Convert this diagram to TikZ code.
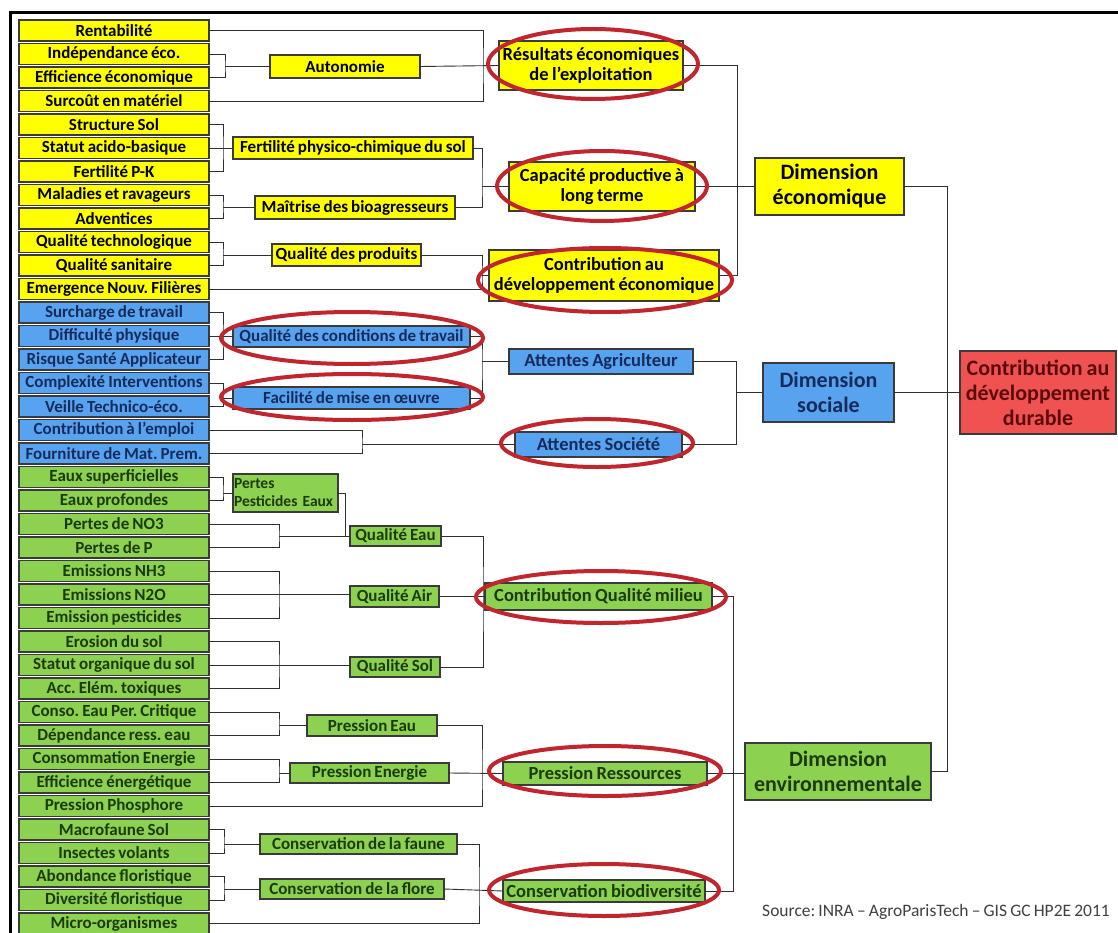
\documentclass[tikz,border=0pt]{standalone}
\usepackage{fontspec}
\setmainfont{Carlito}[WordSpace=0.8]
\frenchspacing
\definecolor{yelF}{HTML}{FFFF00}
\definecolor{bluF}{HTML}{58A3F0}
\definecolor{grnF}{HTML}{8CD250}
\definecolor{redF}{HTML}{F05252}
\definecolor{bordC}{HTML}{3A3A3A}
\definecolor{lineC}{HTML}{303030}
\definecolor{ringC}{HTML}{C0262D}
\definecolor{bluT}{HTML}{172B5A}
\definecolor{grnT}{HTML}{1D3A0C}
\definecolor{redT}{HTML}{5C0B0B}
\definecolor{srcT}{HTML}{404040}
\tikzset{
  box/.style={draw=bordC, line width=1.1pt, inner sep=0.5pt, outer sep=0pt, align=center},
  leaf/.style={box, minimum width=190pt, minimum height=21pt, font=\fontsize{17}{18}\selectfont\bfseries},
  mid/.style={box, font=\fontsize{17}{19}\selectfont\bfseries},
  big/.style={box, font=\fontsize{18.5}{20}\selectfont\bfseries},
  dim/.style={box, font=\fontsize{22}{25}\selectfont\bfseries},
  fy/.style={fill=yelF, text=black},
  fb/.style={fill=bluF, text=bluT},
  fg/.style={fill=grnF, text=grnT},
  fr/.style={fill=redF, text=redT},
  ln/.style={draw=lineC, line width=0.9pt},
  lnb/.style={draw=lineC, line width=1.8pt},
  ring/.style={draw=ringC, line width=4pt},
}
\newcommand\cbox[7]{\node[#1, minimum width={#4pt-#2pt}, minimum height={#5pt-#3pt}] (#6) at ({(#2+#4)/2},{(#3+#5)/2}) {#7};}
\newcommand\lf[4]{\node[leaf,#1] (#2) at (114,{30.5+(#3-1)*23.5}) {#4};}
\begin{document}
\begin{tikzpicture}[x=1pt,y=-1pt]
\useasboundingbox (0,0) rectangle (1118,933);
\fill[white] (0,0) rectangle (1118,933);
\draw[line width=3pt] (10,934) -- (10,13) -- (1118,13);
% leaves
\lf{fy}{l1}{1}{Rentabilité}
\lf{fy}{l2}{2}{Indépendance éco.}
\lf{fy}{l3}{3}{Efficience économique}
\lf{fy}{l4}{4}{Surcoût en matériel}
\lf{fy}{l5}{5}{Structure Sol}
\lf{fy}{l6}{6}{Statut acido-basique}
\lf{fy}{l7}{7}{Fertilité P-K}
\lf{fy}{l8}{8}{Maladies et ravageurs}
\lf{fy}{l9}{9}{Adventices}
\lf{fy}{l10}{10}{Qualité technologique}
\lf{fy}{l11}{11}{Qualité sanitaire}
\lf{fy}{l12}{12}{Emergence Nouv. Filières}
\lf{fb}{l13}{13}{Surcharge de travail}
\lf{fb}{l14}{14}{Difficulté physique}
\lf{fb}{l15}{15}{Risque Santé Applicateur}
\lf{fb}{l16}{16}{Complexité Interventions}
\lf{fb}{l17}{17}{Veille Technico-éco.}
\lf{fb}{l18}{18}{Contribution à l’emploi}
\lf{fb}{l19}{19}{Fourniture de Mat. Prem.}
\lf{fg}{l20}{20}{Eaux superficielles}
\lf{fg}{l21}{21}{Eaux profondes}
\lf{fg}{l22}{22}{Pertes de NO3}
\lf{fg}{l23}{23}{Pertes de P}
\lf{fg}{l24}{24}{Emissions NH3}
\lf{fg}{l25}{25}{Emissions N2O}
\lf{fg}{l26}{26}{Emission pesticides}
\lf{fg}{l27}{27}{Erosion du sol}
\lf{fg}{l28}{28}{Statut organique du sol}
\lf{fg}{l29}{29}{Acc. Elém. toxiques}
\lf{fg}{l30}{30}{Conso. Eau Per. Critique}
\lf{fg}{l31}{31}{Dépendance ress. eau}
\lf{fg}{l32}{32}{Consommation Energie}
\lf{fg}{l33}{33}{Efficience énergétique}
\lf{fg}{l34}{34}{Pression Phosphore}
\lf{fg}{l35}{35}{Macrofaune Sol}
\lf{fg}{l36}{36}{Insectes volants}
\lf{fg}{l37}{37}{Abondance floristique}
\lf{fg}{l38}{38}{Diversité floristique}
\lf{fg}{l39}{39}{Micro-organismes}
% second level
\cbox{mid,fy}{270}{55}{420}{78}{auto}{Autonomie}
\cbox{mid,fy}{233}{137}{473}{159}{fert}{Fertilité physico-chimique du sol}
\cbox{mid,fy}{255}{196}{455}{219}{mait}{Maîtrise des bioagresseurs}
\cbox{mid,fy}{272}{244}{421}{266}{qprod}{Qualité des produits}
\cbox{mid,fb}{233}{326}{470}{347}{qcond}{Qualité des conditions de travail}
\cbox{mid,fb}{233}{387}{470}{409}{facil}{Facilité de mise en œuvre}
\cbox{big,fb}{509}{349}{693}{374}{aagr}{Attentes Agriculteur}
\cbox{big,fb}{515}{432}{682}{457}{asoc}{Attentes Société}
\node[box,fg,align=left,minimum width=105pt,minimum height=38pt,text width=103pt,inner xsep=1pt,font=\fontsize{15.5}{18}\selectfont\bfseries] (ppe) at (285.5,493) {Pertes\\Pesticides Eaux};
\cbox{mid,fg}{350}{526}{441}{546}{qeau}{Qualité Eau}
\cbox{mid,fg}{350}{586}{439}{607}{qair}{Qualité Air}
\cbox{mid,fg}{350}{657}{440}{677}{qsol}{Qualité Sol}
\cbox{mid,fg}{307}{715}{437}{736}{peau}{Pression Eau}
\cbox{mid,fg}{290}{763}{449}{783}{pener}{Pression Energie}
\cbox{mid,fg}{260}{834}{457}{854}{cfaune}{Conservation de la faune}
\cbox{mid,fg}{260}{879}{444}{899}{cflore}{Conservation de la flore}
% third level
\cbox{big,fy}{499}{41}{683}{90}{res}{Résultats économiques\\de l’exploitation}
\cbox{big,fy}{509}{162}{695}{211}{cap}{Capacité productive à\\long terme}
\cbox{big,fy}{489}{250}{719}{301}{cde}{Contribution au\\développement économique}
\cbox{big,fg}{485}{583}{712}{610}{cqm}{Contribution Qualité milieu}
\cbox{big,fg}{503}{762}{707}{785}{pres}{Pression Ressources}
\cbox{big,fg}{503}{880}{705}{902}{cbio}{Conservation biodiversité}
% dimensions
\cbox{dim,fy}{755}{158}{904}{215}{deco}{Dimension\\économique}
\cbox{dim,fb}{763}{363}{894}{422}{dsoc}{Dimension\\sociale}
\cbox{dim,fg}{745}{743}{931}{800}{denv}{Dimension\\environnementale}
\cbox{dim,fr}{960}{351}{1116}{434}{cdd}{Contribution au\\développement\\durable}
% junctions
\coordinate (jA) at (483,65.5);
\coordinate (jB) at (225,66.5);
\coordinate (jC) at (223,148);
\coordinate (jD) at (223,207.5);
\coordinate (jE) at (482,186.5);
\coordinate (jF) at (223,255);
\coordinate (jG) at (482,275.5);
\coordinate (jH) at (737,186.5);
\coordinate (jI) at (947,392.5);
\coordinate (jJ) at (223,336.5);
\coordinate (jK) at (223,398);
\coordinate (jL) at (482,361.5);
\coordinate (jM) at (362,444.5);
\coordinate (jN) at (736,392.5);
\coordinate (jO) at (223,493);
\coordinate (jP) at (345,536);
\coordinate (jQ) at (279,536);
\coordinate (jR) at (279,596.5);
\coordinate (jS) at (279,667);
\coordinate (jT) at (483,596.5);
\coordinate (jU) at (733,773.5);
\coordinate (jV) at (279,725.5);
\coordinate (jW) at (279,773);
\coordinate (jX) at (482,773);
\coordinate (jY) at (224,844);
\coordinate (jZ) at (224,889);
\coordinate (jAA) at (479,889);
% connectors: economic
\draw[ln] (l1.east) -| (jA) |- (l4.east);
\draw[ln] (auto.east) -- (res.west);
\draw[ln] (l2.east) -| (jB) |- (l3.east);
\draw[ln] (jB) -- (auto.west);
\draw[ln] (l5.east) -| (jC) |- (l7.east);
\draw[ln] (l6.east) -- (fert.west);
\draw[ln] (l8.east) -| (jD) |- (l9.east);
\draw[ln] (jD) -- (mait.west);
\draw[ln] (fert.east) -| (jE) |- (mait.east);
\draw[ln] (jE) -- (cap.west);
\draw[ln] (l10.east) -| (jF) |- (l11.east);
\draw[ln] (jF) -- (qprod.west);
\draw[ln] (qprod.east) -| (jG) |- (l12.east);
\draw[ln] (jG) -- (cde.west);
\draw[ln] (res.east) -| (jH) |- (cde.east);
\draw[ln] (cap.east) -- (deco.west);
\draw[ln] (deco.east) -| (jI) |- (denv.east);
\draw[ln] (dsoc.east) -- (cdd.west);
% social
\draw[ln] (l13.east) -| (jJ) |- (l15.east);
\draw[ln] (l14.east) -- (l14.east -| qcond.west);
\draw[ln] (l16.east) -| (jK) |- (l17.east);
\draw[ln] (jK) -- (facil.west);
\draw[ln] (qcond.east) -| (jL) |- (facil.east);
\draw[ln] (jL) -- (aagr.west);
\draw[ln] (l18.east) -| (jM) |- (l19.east);
\draw[lnb] (jM) -- (asoc.west);
\draw[ln] (aagr.east) -| (jN) |- (asoc.east);
\draw[lnb] (jN) -- (dsoc.west);
% environment
\draw[ln] (l20.east) -| (jO) |- (l21.east);
\draw[ln] (jO) -- (ppe.west);
\draw[ln] (ppe.east) -| (jP) -- (qeau.west);
\draw[ln] (l22.east) -| (jQ) |- (l23.east);
\draw[ln] (jQ) -- (jP);
\draw[ln] (l24.east) -| (jR) |- (l26.east);
\draw[lnb] (l25.east) -- (l25.east -| qair.west);
\draw[ln] (l27.east) -| (jS) |- (l29.east);
\draw[ln] (l28.east) -- (l28.east -| qsol.west);
\draw[ln] (qeau.east) -| (jT) |- (qsol.east);
\draw[ln] (qair.east) -- (cqm.west);
\draw[ln] (cqm.east) -| (jU) |- (cbio.east);
\draw[ln] (pres.east) -- (pres.east -| denv.west);
\draw[ln] (l30.east) -| (jV) |- (l31.east);
\draw[ln] (jV) -- (peau.west);
\draw[ln] (l32.east) -| (jW) |- (l33.east);
\draw[ln] (jW) -- (pener.west);
\draw[ln] (peau.east) -| (jX) |- (l34.east);
\draw[ln] (pener.east) -- (pres.west);
\draw[ln] (l35.east) -| (jY) |- (l36.east);
\draw[ln] (jY) -- (cfaune.west);
\draw[ln] (l37.east) -| (jZ) |- (l38.east);
\draw[ln] (jZ) -- (cflore.west);
\draw[ln] (cfaune.east) -| (jAA) |- (l39.east);
\draw[ln] (cflore.east) -- (cbio.west);
% rings
\draw[ring] (593,64) ellipse [x radius=105pt, y radius=35pt];
\draw[ring] (602,186) ellipse [x radius=105pt, y radius=35pt];
\draw[ring] (605,280) ellipse [x radius=127pt, y radius=32pt];
\draw[ring] (352,338) ellipse [x radius=131pt, y radius=26pt];
\draw[ring] (352,397) ellipse [x radius=131pt, y radius=23pt];
\draw[ring] (597,443) ellipse [x radius=96pt, y radius=24pt];
\draw[ring] (601,597) ellipse [x radius=125pt, y radius=26pt];
\draw[ring] (605,771) ellipse [x radius=116pt, y radius=25pt];
\draw[ring] (604,890) ellipse [x radius=115pt, y radius=26pt];
% source
\node[anchor=east, text=srcT, font=\fontsize{17.5}{19}\selectfont, inner sep=0pt] (src) at (1110,912) {Source: INRA – AgroParisTech – GIS GC HP2E 2011};
\end{tikzpicture}
\end{document}
